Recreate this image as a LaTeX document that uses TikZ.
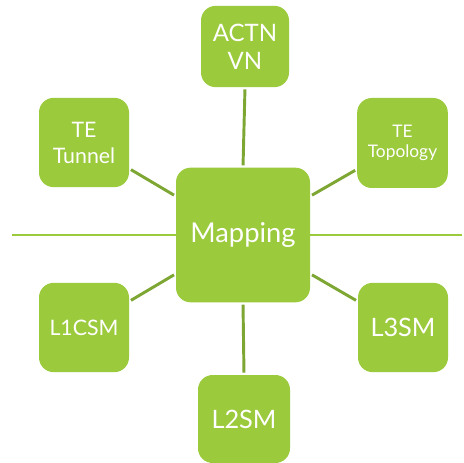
\documentclass[tikz,border=0pt]{standalone}
\usepackage{fontspec}
\setmainfont{Lato}
\usepackage{tikz}
\usetikzlibrary{positioning}
\definecolor{boxgreen}{HTML}{9BCA3C}
\definecolor{linkgreen}{HTML}{7DA633}

\begin{document}
\begin{tikzpicture}[x=0.75pt,y=-0.75pt,
    box/.style={rectangle,rounded corners=11pt,fill=boxgreen,text=white,
        align=center,inner sep=0pt,minimum width=67.5pt,minimum height=67pt},
    link/.style={draw=linkgreen,line width=2.2pt,shorten <=1.5pt,shorten >=1.5pt},
    axis/.style={draw=boxgreen,line width=2pt}]
    \useasboundingbox (0,0) rectangle (464,463);

    \node[box,minimum width=100.5pt,minimum height=101pt,font=\fontsize{20.5}{24}\selectfont] (map) at (243,235) {Mapping};
    \node[box,minimum width=66pt,minimum height=61pt,font=\fontsize{18}{21}\selectfont] (actn) at (245,46.5) {ACTN\\VN};
    \node[box,minimum width=68pt,minimum height=67.5pt,font=\fontsize{13}{14.5}\selectfont] (topo) at (402.5,143) {TE\\Topology};
    \node[box,font=\fontsize{16}{19.5}\selectfont] (tunnel) at (84,142.5) {TE\\Tunnel};
    \node[box,font=\fontsize{16}{18}\selectfont] (lone) at (84,327.5) {L1CSM};
    \node[box,font=\fontsize{19}{20}\selectfont] (lthree) at (403,327.5) {L3SM};
    \node[box,minimum width=69pt,minimum height=66pt,font=\fontsize{19}{20}\selectfont] (ltwo) at (244,419) {L2SM};

    \coordinate (lend) at (12,235);
    \coordinate (rend) at (462,235);

    % axis through the middle
    \draw[axis] (lend) -- (map.west);
    \draw[axis] (map.east) -- (rend);

    % links to the mapping box
    \draw[link] (actn.south) -- (map.north);
    \draw[link] (map.south) -- (ltwo.north);
    \draw[link] (tunnel.-30) -- (map.150);
    \draw[link] (map.30) -- (topo.-150);
    \draw[link] (map.210) -- (lone.30);
    \draw[link] (map.-30) -- (lthree.150);
\end{tikzpicture}
\end{document}
